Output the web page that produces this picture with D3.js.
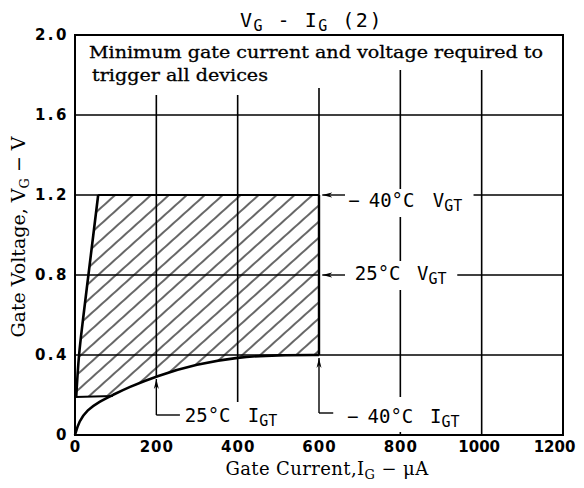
<!DOCTYPE html>
<html>
<head>
<meta charset="utf-8">
<script src="https://cdn.jsdelivr.net/npm/d3@7"></script>
<style>
  body { margin: 0; background: #fff; }
  svg { display: block; }
</style>
</head>
<body>
<svg id="chart" width="584" height="488"></svg>
<script>
// axis ticks
var xTicks = [0, 200, 400, 600, 800, 1000, 1200];
var yTicks = [0, 0.4, 0.8, 1.2, 1.6, 2.0];
var yTickLabels = ["0", "0.4", "0.8", "1.2", "1.6", "2.0"];

// boundary curves of the trigger area (IG uA, VG V)
var leftEdge = [[3, 0.19], [10, 0.4], [21, 0.6], [33, 0.8], [45, 1.0], [57, 1.2]];
var lowerCurve = [[0, 0], [10, 0.07], [30, 0.125], [60, 0.168], [93, 0.2], [130, 0.237], [200, 0.295], [300, 0.355], [400, 0.39], [500, 0.4], [600, 0.4]];
var shelf = [[0, 0.19], [93, 0.195]];
var maxIgt = 600, maxVgt = 1.2;

// grid pieces (broken where the labels sit)
var vGrid = [
  {i: 200, v0: 1.7, v1: 0.295},
  {i: 400, v0: 1.7, v1: 0.165},
  {i: 600, v0: 1.735, v1: 0.4},
  {i: 800, v0: 1.825, v1: 1.23},
  {i: 800, v0: 1.09, v1: 0.87},
  {i: 800, v0: 0.725, v1: 0.19},
  {i: 800, v0: 0.015, v1: 0},
  {i: 1000, v0: 1.825, v1: 0}
];
var hGrid = [
  {v: 1.6, i0: 0, i1: 1200},
  {v: 1.2, i0: 0, i1: 600},
  {v: 1.2, i0: 980, i1: 1200},
  {v: 0.8, i0: 0, i1: 600},
  {v: 0.8, i0: 940, i1: 1200},
  {v: 0.4, i0: 0, i1: 1200}
];

// arrows and leader lines
var arrows = [
  {from: [664, 1.2], to: [608, 1.2]},
  {from: [664, 0.8], to: [608, 0.8]},
  {from: [200, 0.1], to: [200, 0.28]},
  {from: [600, 0.11], to: [600, 0.385]}
];
var leaders = [
  {i0: 200, i1: 258, v: 0.1},
  {i0: 600, i1: 635, v: 0.11}
];
var labels = [
  {sign: "\u2212", temp: "40\u00b0C", ti: 672, sym: "V", si: 880, v: 1.14},
  {sign: "", temp: "25\u00b0C", ti: 688, sym: "V", si: 841, v: 0.775},
  {sign: "", temp: "25\u00b0C", ti: 270, sym: "I", si: 425, v: 0.065},
  {sign: "\u2212", temp: "40\u00b0C", ti: 669, sym: "I", si: 873, v: 0.06}
];

var svg = d3.select("#chart");

var x = d3.scaleLinear().domain([0, 1200]).range([75, 563]);
var y = d3.scaleLinear().domain([0, 2]).range([435, 35]);

var defs = svg.append("defs");
var pat = defs.append("pattern")
    .attr("id", "hatch")
    .attr("patternUnits", "userSpaceOnUse")
    .attr("width", 12).attr("height", 12)
    .attr("patternTransform", "rotate(-42)");
pat.append("line")
    .attr("x1", 0).attr("y1", 6).attr("x2", 12).attr("y2", 6)
    .attr("stroke", "#000").attr("stroke-width", 1.2);

defs.append("marker")
    .attr("id", "arr")
    .attr("viewBox", "0 0 10 6")
    .attr("refX", 10).attr("refY", 3)
    .attr("markerWidth", 10).attr("markerHeight", 6)
    .attr("markerUnits", "userSpaceOnUse")
    .attr("orient", "auto")
  .append("path")
    .attr("d", "M0,0.5 L10,3 L0,5.5 L3,3 Z")
    .attr("fill", "#000");

var line = d3.line().x(function(d) { return x(d[0]); }).y(function(d) { return y(d[1]); });

// hatched trigger area
var poly = leftEdge.concat([[maxIgt, maxVgt], [maxIgt, 0.4]])
    .concat(lowerCurve.filter(function(d) { return d[0] >= 93; }).reverse())
    .concat([[leftEdge[0][0], shelf[0][1]]]);
svg.append("path")
    .attr("d", line.curve(d3.curveLinear)(poly) + "Z")
    .attr("fill", "url(#hatch)");

// grid
svg.append("g").selectAll("line")
    .data(hGrid)
  .enter().append("line")
    .attr("x1", function(d) { return x(d.i0); })
    .attr("x2", function(d) { return x(d.i1); })
    .attr("y1", function(d) { return y(d.v); })
    .attr("y2", function(d) { return y(d.v); })
    .attr("stroke", "#000").attr("stroke-width", 1.6);

svg.append("g").selectAll("line")
    .data(vGrid)
  .enter().append("line")
    .attr("x1", function(d) { return x(d.i); })
    .attr("x2", function(d) { return x(d.i); })
    .attr("y1", function(d) { return y(d.v0); })
    .attr("y2", function(d) { return y(d.v1); })
    .attr("stroke", "#000").attr("stroke-width", 1.6);

// frame
svg.append("rect")
    .attr("x", x(0)).attr("y", y(2))
    .attr("width", x(1200) - x(0)).attr("height", y(0) - y(2))
    .attr("fill", "none").attr("stroke", "#000").attr("stroke-width", 2);

// curves
svg.append("path")
    .attr("d", line.curve(d3.curveMonotoneY)(leftEdge))
    .attr("fill", "none").attr("stroke", "#000").attr("stroke-width", 2.6);
svg.append("path")
    .attr("d", line.curve(d3.curveBasis)(lowerCurve))
    .attr("fill", "none").attr("stroke", "#000").attr("stroke-width", 2.6);
svg.append("path")
    .attr("d", line.curve(d3.curveLinear)(shelf))
    .attr("fill", "none").attr("stroke", "#000").attr("stroke-width", 2.2);
svg.append("line")
    .attr("x1", x(maxIgt)).attr("x2", x(maxIgt))
    .attr("y1", y(maxVgt)).attr("y2", y(0.4))
    .attr("stroke", "#000").attr("stroke-width", 2.4);
svg.append("line")
    .attr("x1", x(leftEdge[leftEdge.length - 1][0])).attr("x2", x(maxIgt))
    .attr("y1", y(maxVgt)).attr("y2", y(maxVgt))
    .attr("stroke", "#000").attr("stroke-width", 2.2);

// arrows, leaders
svg.append("g").selectAll("line")
    .data(arrows)
  .enter().append("line")
    .attr("x1", function(d) { return x(d.from[0]); })
    .attr("y1", function(d) { return y(d.from[1]); })
    .attr("x2", function(d) { return x(d.to[0]); })
    .attr("y2", function(d) { return y(d.to[1]); })
    .attr("stroke", "#000").attr("stroke-width", 1.4)
    .attr("marker-end", "url(#arr)");
svg.append("g").selectAll("line")
    .data(leaders)
  .enter().append("line")
    .attr("x1", function(d) { return x(d.i0); })
    .attr("x2", function(d) { return x(d.i1); })
    .attr("y1", function(d) { return y(d.v); })
    .attr("y2", function(d) { return y(d.v); })
    .attr("stroke", "#000").attr("stroke-width", 1.4);

// VGT / IGT labels
var mono = "'DejaVu Sans Mono', 'Liberation Mono', monospace";
var lab = svg.append("g").attr("font-family", mono).attr("fill", "#000");
var temp = lab.selectAll("text.temp")
    .data(labels)
  .enter().append("text")
    .attr("class", "temp")
    .attr("x", function(d) { return x(d.ti); })
    .attr("y", function(d) { return y(d.v); })
    .attr("font-size", 19);
temp.append("tspan").text(function(d) { return d.sign; });
temp.append("tspan").attr("dx", function(d) { return d.sign ? 9 : 0; }).text(function(d) { return d.temp; });
var sym = lab.selectAll("text.sym")
    .data(labels)
  .enter().append("text")
    .attr("class", "sym")
    .attr("x", function(d) { return x(d.si); })
    .attr("y", function(d) { return y(d.v); })
    .attr("font-size", 19);
sym.append("tspan").text(function(d) { return d.sym; });
sym.append("tspan").attr("font-size", 15).attr("dy", 4).text("GT");

// title
var title = svg.append("text")
    .attr("x", 240).attr("y", 27)
    .attr("font-family", mono).attr("font-size", 20)
    .attr("letter-spacing", 1.5);
title.append("tspan").text("V");
title.append("tspan").attr("font-size", 15).attr("dy", 4).text("G");
title.append("tspan").attr("dy", -4).text(" - I");
title.append("tspan").attr("font-size", 15).attr("dy", 4).text("G");
title.append("tspan").attr("dy", -4).text(" (2)");

// note
var serif = "'DejaVu Serif', 'Liberation Serif', serif";
svg.append("text")
    .attr("x", 89).attr("y", 58)
    .attr("font-family", serif).attr("font-size", 17)
    .attr("stroke", "#000").attr("stroke-width", 0.3)
    .attr("textLength", 454).attr("lengthAdjust", "spacingAndGlyphs")
    .text("Minimum gate current and voltage required to");
svg.append("text")
    .attr("x", 92).attr("y", 81)
    .attr("font-family", serif).attr("font-size", 17)
    .attr("stroke", "#000").attr("stroke-width", 0.3)
    .attr("textLength", 176).attr("lengthAdjust", "spacingAndGlyphs")
    .text("trigger all devices");

// axes
var xAxis = svg.append("g")
    .attr("transform", "translate(0," + y(0) + ")")
    .call(d3.axisBottom(x).tickValues(xTicks).tickSize(0).tickPadding(6).tickFormat(d3.format("d")));
var yAxis = svg.append("g")
    .attr("transform", "translate(" + x(0) + ",0)")
    .call(d3.axisLeft(y).tickValues(yTicks).tickSize(0).tickPadding(6)
      .tickFormat(function(d, i) { return yTickLabels[i]; }));
[xAxis, yAxis].forEach(function(g) {
  g.select(".domain").remove();
  g.selectAll("text")
      .attr("font-family", "'DejaVu Sans', sans-serif")
      .attr("font-weight", "bold")
      .attr("font-size", 15)
      .attr("fill", "#000");
});
xAxis.selectAll("text").attr("letter-spacing", function(d) { return d >= 1000 ? 0 : 1; });
xAxis.selectAll("text").filter(function(d) { return d === 1200; }).attr("dx", -9);
xAxis.selectAll("text").filter(function(d) { return d === 1000; }).attr("dx", -3);
yAxis.selectAll("text").attr("letter-spacing", 2.5);

// axis titles
var xt = svg.append("text")
    .attr("x", 327).attr("y", 475)
    .attr("text-anchor", "middle")
    .attr("font-family", serif).attr("font-size", 18)
    .attr("letter-spacing", 0.4);
xt.append("tspan").text("Gate Current,I");
xt.append("tspan").attr("font-size", 13).attr("dy", 4).text("G");
xt.append("tspan").attr("dy", -4).text(" \u2212 \u03bcA");

var yt = svg.append("text")
    .attr("transform", "translate(25,237) rotate(-90)")
    .attr("text-anchor", "middle")
    .attr("font-family", serif).attr("font-size", 19);
yt.append("tspan").text("Gate Voltage, V");
yt.append("tspan").attr("font-size", 13).attr("dy", 4).text("G");
yt.append("tspan").attr("dy", -4).text(" \u2212 V");
</script>
</body>
</html>
